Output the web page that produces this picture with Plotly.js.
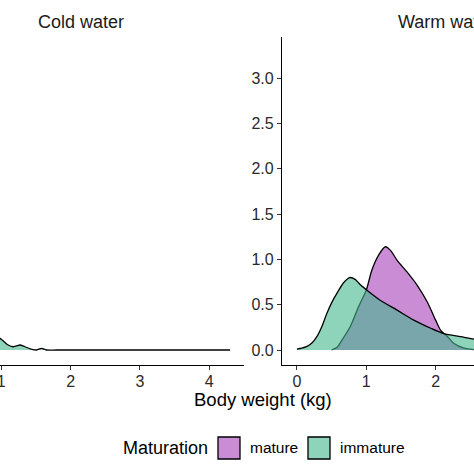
<!DOCTYPE html>
<html>
<head>
<meta charset="utf-8">
<script src="https://cdn.plot.ly/plotly-3.0.1.min.js"></script>
<style>
html,body{margin:0;padding:0;width:474px;height:474px;overflow:hidden;background:#fff;}
#chart{position:absolute;left:-130px;top:0;width:770px;height:474px;}
</style>
</head>
<body>
<div id="chart"></div>
<script>
// ---- data ----
const panels = ["Cold water", "Warm water"];
const groups = ["mature", "immature"];
const legendTitle = "Maturation";
const xTitle = "Body weight (kg)";

// Cold water, immature (visible part)
const coldImmX = [0.95,0.98,1.03,1.10,1.17,1.22,1.27,1.34,1.44,1.51,1.58,1.65,1.8,2.5,3.5,4.3];
const coldImmY = [0.16,0.13,0.10,0.055,0.036,0.045,0.055,0.036,0.008,0.0,0.018,0.0,0.0,0.0,0.0,0.0];

// Warm water, mature
const warmMatX = [0.5,0.58,0.65,0.77,0.89,1.0,1.08,1.18,1.275,1.35,1.445,1.59,1.73,1.88,2.0,2.07,2.17,2.26,2.41,2.55,2.7];
const warmMatY = [0,0.03,0.11,0.26,0.48,0.66,0.88,1.05,1.14,1.10,0.99,0.86,0.72,0.53,0.33,0.22,0.15,0.074,0.02,0.005,0];

// Warm water, immature
const warmImmX = [0,0.07,0.145,0.22,0.29,0.36,0.43,0.5,0.58,0.67,0.76,0.84,0.915,1.01,1.2,1.445,1.685,1.93,2.12,2.36,2.55,2.65];
const warmImmY = [0.01,0.02,0.04,0.08,0.15,0.26,0.40,0.52,0.63,0.74,0.80,0.78,0.72,0.66,0.55,0.44,0.33,0.24,0.18,0.147,0.12,0.11];

const yTicks = [0,0.5,1.0,1.5,2.0,2.5,3.0];
const xTicks = [0,1,2,3,4];

// ---- style ----
const FONT = "Liberation Sans, Arial, Helvetica, sans-serif";
const colMature = "rgba(165,63,185,0.6)";
const colImmature = "rgba(67,183,142,0.6)";

const W = 770, H = 474, ML = 47, MR = 31, MT = 37, MB = 109;
const PW = W - ML - MR, PH = H - MT - MB;
const px = v => (v - ML) / PW;        // div pixel x -> paper
const py = v => (H - MB - v) / PH;    // div pixel y -> paper
const OFF = 130;                      // page -> div offset

function dens(x, y, xa, ya, color, name) {
  return {
    x: x, y: y, xaxis: xa, yaxis: ya, type: "scatter", mode: "lines",
    fill: "tozeroy", fillcolor: color, name: name, showlegend: false,
    line: {color: "#000", width: 1.3, shape: "spline", smoothing: 0.7},
    hoverinfo: "skip"
  };
}

const data = [
  dens(coldImmX, coldImmY, "x", "y", colImmature, groups[1]),
  dens(warmMatX, warmMatY, "x2", "y2", colMature, groups[0]),
  dens(warmImmX, warmImmY, "x2", "y2", colImmature, groups[1])
];

const TICKFONT = {family: FONT, size: 16, color: "#2a2a2a"};
const xr = [-0.215, 4.5], yr = [-0.1656, 3.456];
function xa(dom, anchor) {
  return {domain: dom, anchor: anchor, range: xr, tickvals: xTicks, ticktext: xTicks.map(String),
    showline: true, linecolor: "#000", linewidth: 1.1, ticks: "outside", ticklen: 4,
    tickwidth: 1, tickcolor: "#333", showgrid: false, zeroline: false,
    ticklabelstandoff: -2, tickfont: TICKFONT};
}
function ya(anchor, labels) {
  return {anchor: anchor, domain: [0,1], range: yr, tickvals: yTicks, ticktext: yTicks.map(v => v.toFixed(1)),
    showline: true, linecolor: "#000", linewidth: 1.1, ticks: "outside", ticklen: 4,
    tickwidth: 1, tickcolor: "#333", showgrid: false, zeroline: false, showticklabels: labels,
    tickfont: TICKFONT};
}

const d1 = [0, 327/PW], d2 = [1 - 327/PW, 1];

const annotations = [
  {text: panels[0], xref: "paper", yref: "paper", x: (d1[0]+d1[1])/2, y: py(22), xanchor: "center", yanchor: "middle",
   showarrow: false, font: {family: FONT, size: 18, color: "#1a1a1a"}},
  {text: panels[1], xref: "paper", yref: "paper", x: (d2[0]+d2[1])/2, y: py(22), xanchor: "center", yanchor: "middle",
   showarrow: false, font: {family: FONT, size: 18, color: "#1a1a1a"}},
  {text: xTitle, xref: "paper", yref: "paper", x: 0.5, y: py(399), xanchor: "center", yanchor: "middle",
   showarrow: false, font: {family: FONT, size: 18.5, color: "#000"}},
  {text: legendTitle, xref: "paper", yref: "paper", x: px(121+OFF), y: py(448), xanchor: "left", yanchor: "middle",
   showarrow: false, font: {family: FONT, size: 18, color: "#000"}},
  {text: groups[0], xref: "paper", yref: "paper", x: px(248+OFF), y: py(448), xanchor: "left", yanchor: "middle",
   showarrow: false, font: {family: FONT, size: 15.5, color: "#000"}},
  {text: groups[1], xref: "paper", yref: "paper", x: px(338+OFF), y: py(448), xanchor: "left", yanchor: "middle",
   showarrow: false, font: {family: FONT, size: 15.5, color: "#000"}}
];

const shapes = [
  {type: "rect", xref: "paper", yref: "paper", x0: px(218+OFF), x1: px(240+OFF), y0: py(459), y1: py(437),
   fillcolor: colMature, line: {color: "#000", width: 1.3}},
  {type: "rect", xref: "paper", yref: "paper", x0: px(308+OFF), x1: px(330+OFF), y0: py(459), y1: py(437),
   fillcolor: colImmature, line: {color: "#000", width: 1.3}}
];

const layout = {
  width: W, height: H,
  margin: {l: ML, r: MR, t: MT, b: MB, pad: 0},
  paper_bgcolor: "#fff", plot_bgcolor: "rgba(0,0,0,0)",
  showlegend: false,
  xaxis: xa(d1, "y"), yaxis: ya("x", false),
  xaxis2: xa(d2, "y2"), yaxis2: ya("x2", true),
  annotations: annotations, shapes: shapes,
  font: {family: FONT}
};

Plotly.newPlot("chart", data, layout, {staticPlot: true, displayModeBar: false});
</script>
</body>
</html>
